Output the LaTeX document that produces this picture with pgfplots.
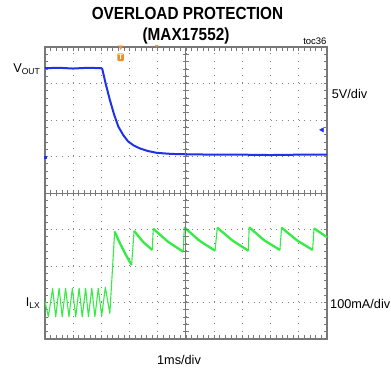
\documentclass[border=0pt]{standalone}
\usepackage{pgfplots}
\pgfplotsset{compat=1.18}
\usepackage{fontspec}
\setmainfont{Liberation Sans}
\newfontfamily\titlefont[FakeStretch=0.875]{Liberation Sans}
\definecolor{trblue}{RGB}{30,50,232}
\definecolor{trgreen}{RGB}{55,235,70}
\definecolor{trorange}{RGB}{240,140,40}
\definecolor{framegray}{RGB}{120,120,120}
\definecolor{gridgray}{RGB}{130,130,130}
\begin{document}
\begin{tikzpicture}
\begin{axis}[
  name=main,
  at={(0,0)}, anchor=south west,
  scale only axis, width=282bp, height=292bp,
  xmin=0, xmax=10, ymin=0, ymax=8,
  xtick={0,...,10}, ytick={0,...,8},
  minor x tick num=4, minor y tick num=4,
  xticklabels=\empty, yticklabels=\empty,
  tick align=inside, major tick length=3.5bp, minor tick length=3.5bp,
  every tick/.style={framegray, line width=0.7bp},
  axis line style={framegray, line width=1.2bp},
  grid=major,
  x grid style={gridgray, line width=1bp, dash pattern=on 1bp off 6.3bp},
  y grid style={gridgray, line width=1bp, dash pattern=on 1bp off 4.64bp},
  clip=false,
]
% V_OUT trace
\addplot[trblue, line width=2bp, line join=round] coordinates {
(0,7.42) (0.5,7.43) (1.0,7.41) (1.5,7.43) (2.00,7.42) (2.03,7.40) (2.15,7.00) (2.30,6.55)
(2.45,6.15) (2.60,5.82) (2.78,5.58) (2.95,5.41) (3.15,5.30) (3.37,5.22)
(3.65,5.15) (3.96,5.10) (4.5,5.07) (5.14,5.06) (6,5.05) (7,5.05) (8,5.04) (9,5.05) (10,5.05)
};
% I_LX trace (full)
\addplot[trgreen, line width=1.1bp, line join=round] coordinates {
(0,1.02) (0.12,0.61) (0.27,1.39) (0.38,0.61) (0.50,1.39) (0.61,0.61) (0.73,1.39)
(0.85,0.61) (0.97,1.39) (1.09,0.61) (1.21,1.39) (1.32,0.61) (1.44,1.39)
(1.54,0.61) (1.66,1.39) (1.77,0.61) (1.89,1.39) (2.01,0.63) (2.14,1.42)
(2.30,0.70) (2.47,2.94) (2.66,2.62) (2.87,2.30) (3.07,2.03)
(3.16,2.96) (3.48,2.66) (3.80,2.44)
(3.84,3.02) (4.37,2.66) (4.90,2.39)
(4.94,3.06) (5.48,2.69) (6.03,2.42)
(6.11,3.05) (6.66,2.69) (7.21,2.42)
(7.24,3.06) (7.78,2.70) (8.33,2.44)
(8.39,3.05) (8.94,2.70) (9.49,2.44)
(9.54,3.03) (10,2.79)
};
% thicker (noisy) decay segments
\addplot[trgreen, line width=2.3bp, line join=round] coordinates {(2.47,2.94) (2.66,2.62) (2.87,2.30) (3.07,2.03)};
\addplot[trgreen, line width=2.3bp, line join=round] coordinates {(3.16,2.96) (3.48,2.66) (3.80,2.44)};
\addplot[trgreen, line width=2.3bp, line join=round] coordinates {(3.84,3.02) (4.37,2.66) (4.90,2.39)};
\addplot[trgreen, line width=2.3bp, line join=round] coordinates {(4.94,3.06) (5.48,2.69) (6.03,2.42)};
\addplot[trgreen, line width=2.3bp, line join=round] coordinates {(6.11,3.05) (6.66,2.69) (7.21,2.42)};
\addplot[trgreen, line width=2.3bp, line join=round] coordinates {(7.24,3.06) (7.78,2.70) (8.33,2.44)};
\addplot[trgreen, line width=2.3bp, line join=round] coordinates {(8.39,3.05) (8.94,2.70) (9.49,2.44)};
\addplot[trgreen, line width=2.3bp, line join=round] coordinates {(9.54,3.03) (10,2.79)};
% channel markers
\addplot[only marks, mark=square*, mark size=1.1bp, trblue] coordinates {(0,4.99)};
\addplot[only marks, mark=triangle*, mark size=2.6bp, mark options={rotate=90}, trblue] coordinates {(9.83,5.73)};
\addplot[only marks, mark=triangle*, mark size=2.4bp, mark options={rotate=180}, trorange] coordinates {(2.68,8.0)};
\addplot[only marks, mark=triangle*, mark size=1.3bp, mark options={rotate=180}, trorange] coordinates {(3.96,8.03)};
\node[fill=trorange, rounded corners=1bp, inner xsep=1bp, inner ysep=1.2bp, text=white,
      font=\bfseries\fontsize{7.5bp}{8bp}\selectfont] at (axis cs:2.68,7.72) {T};
\end{axis}
% center crosshair with fine ticks
\begin{axis}[
  at={(0,0)}, anchor=south west,
  scale only axis, width=282bp, height=292bp,
  xmin=-5, xmax=5, ymin=-4, ymax=4,
  axis lines=middle, enlargelimits=false,
  axis line style={framegray, line width=1bp, -},
  xtick distance=0.2, ytick distance=0.2,
  xticklabels=\empty, yticklabels=\empty,
  tick align=center, major tick length=6bp,
  every tick/.style={framegray, line width=0.8bp},
]
\end{axis}
% texts
\node[anchor=base, font=\titlefont\bfseries\fontsize{17.5bp}{20bp}\selectfont]
  at ([shift={(142.5bp,319bp)}]main.south west) {OVERLOAD PROTECTION};
\node[anchor=base, font=\titlefont\bfseries\fontsize{17.5bp}{20bp}\selectfont]
  at ([shift={(141bp,298.3bp)}]main.south west) {(MAX17552)};
\node[anchor=base east, font=\fontsize{9.5bp}{10bp}\selectfont, inner sep=0pt]
  at ([shift={(281.7bp,294.7bp)}]main.south west) {toc36};
\node[anchor=east, inner sep=0pt, font=\fontsize{12.7bp}{14bp}\selectfont]
  at ([shift={(-5bp,270bp)}]main.south west) {V\raisebox{-0.35ex}{\fontsize{8.5bp}{9bp}\selectfont OUT}};
\node[anchor=east, inner sep=0pt, font=\fontsize{12.7bp}{14bp}\selectfont]
  at ([shift={(-5bp,36bp)}]main.south west) {I\raisebox{-0.35ex}{\fontsize{8.5bp}{9bp}\selectfont LX}};
\node[anchor=west, inner sep=0pt, font=\fontsize{12.7bp}{14bp}\selectfont]
  at ([shift={(286.7bp,245bp)}]main.south west) {5V/div};
\node[anchor=west, inner sep=0pt, font=\fontsize{12.7bp}{14bp}\selectfont]
  at ([shift={(285bp,35bp)}]main.south west) {100mA/div};
\node[anchor=center, inner sep=0pt, font=\fontsize{12.7bp}{14bp}\selectfont]
  at ([shift={(134bp,-21bp)}]main.south west) {1ms/div};
% page extent
\path ([shift={(-45bp,-34bp)}]main.south west) rectangle ([shift={(64bp,47bp)}]main.north east);
\end{tikzpicture}
\end{document}
